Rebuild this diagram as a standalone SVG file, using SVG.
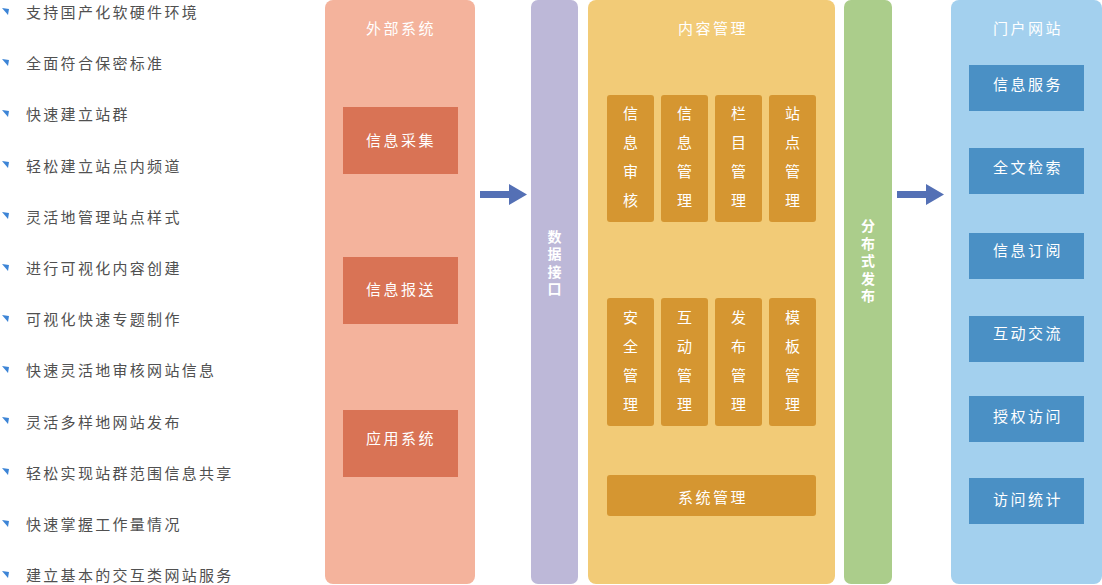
<svg xmlns="http://www.w3.org/2000/svg" width="1102" height="585" viewBox="0 0 1102 585">
<style>
.li{font-family:"Noto Sans CJK SC","Liberation Sans",sans-serif;font-size:15px;fill:#505050;letter-spacing:2.3px;dominant-baseline:central}
.t{font-family:"Noto Sans CJK SC","Liberation Sans",sans-serif;font-size:15px;fill:#ffffff;letter-spacing:2.5px;text-anchor:middle;dominant-baseline:central}
.v{font-family:"Noto Sans CJK SC","Liberation Sans",sans-serif;font-size:15px;fill:#ffffff;text-anchor:middle;dominant-baseline:central}
.vb{font-family:"Noto Sans CJK SC","Liberation Sans",sans-serif;font-size:14px;font-weight:bold;fill:#ffffff;text-anchor:middle;writing-mode:vertical-rl;letter-spacing:3.5px}
.bul{fill:#3c84d6}
.red{fill:#d97355}
.org{fill:#d59631}
.blu{fill:#4a90c5}
.arr{fill:#5470b5}
</style>
<rect width="1102" height="585" fill="#ffffff"/>
<g id="list">
<g id="li1"><polygon class="bul" points="2,8 9,9 8,15"/><text class="li" x="26" y="11.5">支持国产化软硬件环境</text></g>
<g id="li2"><polygon class="bul" points="2,59 9,60 8,66"/><text class="li" x="26" y="62.5">全面符合保密标准</text></g>
<g id="li3"><polygon class="bul" points="2,110 9,111 8,117"/><text class="li" x="26" y="113.5">快速建立站群</text></g>
<g id="li4"><polygon class="bul" points="2,161 9,162 8,168"/><text class="li" x="26" y="165">轻松建立站点内频道</text></g>
<g id="li5"><polygon class="bul" points="2,212 9,213 8,219"/><text class="li" x="26" y="216">灵活地管理站点样式</text></g>
<g id="li6"><polygon class="bul" points="2,264 9,265 8,271"/><text class="li" x="26" y="267.5">进行可视化内容创建</text></g>
<g id="li7"><polygon class="bul" points="2,315 9,316 8,322"/><text class="li" x="26" y="318.5">可视化快速专题制作</text></g>
<g id="li8"><polygon class="bul" points="2,366 9,367 8,373"/><text class="li" x="26" y="369.5">快速灵活地审核网站信息</text></g>
<g id="li9"><polygon class="bul" points="2,417 9,418 8,424"/><text class="li" x="26" y="421">灵活多样地网站发布</text></g>
<g id="li10"><polygon class="bul" points="2,468 9,469 8,475"/><text class="li" x="26" y="472">轻松实现站群范围信息共享</text></g>
<g id="li11"><polygon class="bul" points="2,520 9,521 8,527"/><text class="li" x="26" y="523.5">快速掌握工作量情况</text></g>
<g id="li12"><polygon class="bul" points="2,571 9,572 8,578"/><text class="li" x="26" y="574.5">建立基本的交互类网站服务</text></g>
</g>
<g id="external">
<rect x="325" y="0" width="150" height="584" rx="8" fill="#f4b39c"/>
<text class="t" x="401" y="27">外部系统</text>
<g id="n-collect"><rect class="red" x="343" y="107" width="115" height="67"/><text class="t" x="401" y="139">信息采集</text></g>
<g id="n-report"><rect class="red" x="343" y="257" width="115" height="67"/><text class="t" x="401" y="288">信息报送</text></g>
<g id="n-app"><rect class="red" x="343" y="410" width="115" height="67"/><text class="t" x="401" y="437">应用系统</text></g>
</g>
<g id="data-if">
<rect x="531" y="0" width="47" height="584" rx="7" fill="#bdb8d8"/>
<text class="vb" x="554.5" y="264.5">数据接口</text>
</g>
<g id="content">
<rect x="588" y="0" width="247" height="584" rx="8" fill="#f2cb77"/>
<text class="t" x="713" y="27">内容管理</text>
<g id="n-audit"><rect class="org" x="607" y="95" width="47" height="127" rx="3"/><text class="v" x="630.5" y="112">信</text><text class="v" x="630.5" y="141">息</text><text class="v" x="630.5" y="170">审</text><text class="v" x="630.5" y="199">核</text></g>
<g id="n-info"><rect class="org" x="661" y="95" width="47" height="127" rx="3"/><text class="v" x="684.5" y="112">信</text><text class="v" x="684.5" y="141">息</text><text class="v" x="684.5" y="170">管</text><text class="v" x="684.5" y="199">理</text></g>
<g id="n-column"><rect class="org" x="715" y="95" width="47" height="127" rx="3"/><text class="v" x="738.5" y="112">栏</text><text class="v" x="738.5" y="141">目</text><text class="v" x="738.5" y="170">管</text><text class="v" x="738.5" y="199">理</text></g>
<g id="n-site"><rect class="org" x="769" y="95" width="47" height="127" rx="3"/><text class="v" x="792.5" y="112">站</text><text class="v" x="792.5" y="141">点</text><text class="v" x="792.5" y="170">管</text><text class="v" x="792.5" y="199">理</text></g>
<g id="n-security"><rect class="org" x="607" y="298" width="47" height="128" rx="3"/><text class="v" x="630.5" y="316">安</text><text class="v" x="630.5" y="345">全</text><text class="v" x="630.5" y="374">管</text><text class="v" x="630.5" y="403">理</text></g>
<g id="n-interact"><rect class="org" x="661" y="298" width="47" height="128" rx="3"/><text class="v" x="684.5" y="316">互</text><text class="v" x="684.5" y="345">动</text><text class="v" x="684.5" y="374">管</text><text class="v" x="684.5" y="403">理</text></g>
<g id="n-publish"><rect class="org" x="715" y="298" width="47" height="128" rx="3"/><text class="v" x="738.5" y="316">发</text><text class="v" x="738.5" y="345">布</text><text class="v" x="738.5" y="374">管</text><text class="v" x="738.5" y="403">理</text></g>
<g id="n-template"><rect class="org" x="769" y="298" width="47" height="128" rx="3"/><text class="v" x="792.5" y="316">模</text><text class="v" x="792.5" y="345">板</text><text class="v" x="792.5" y="374">管</text><text class="v" x="792.5" y="403">理</text></g>
<g id="n-system"><rect class="org" x="607" y="475" width="209" height="41" rx="3"/><text class="t" x="713" y="496">系统管理</text></g>
</g>
<g id="distrib">
<rect x="844" y="0" width="48" height="584" rx="7" fill="#abcd8b"/>
<text class="vb" x="868" y="262.5">分布式发布</text>
</g>
<g id="portal">
<rect x="951" y="0" width="151" height="584" rx="8" fill="#a3d0ee"/>
<text class="t" x="1028" y="27">门户网站</text>
<g id="n-svc"><rect class="blu" x="969" y="65" width="115" height="46"/><text class="t" x="1028" y="83">信息服务</text></g>
<g id="n-search"><rect class="blu" x="969" y="148" width="115" height="46"/><text class="t" x="1028" y="166">全文检索</text></g>
<g id="n-sub"><rect class="blu" x="969" y="233" width="115" height="46"/><text class="t" x="1028" y="249">信息订阅</text></g>
<g id="n-ex"><rect class="blu" x="969" y="316" width="115" height="46"/><text class="t" x="1028" y="332">互动交流</text></g>
<g id="n-auth"><rect class="blu" x="969" y="396" width="115" height="46"/><text class="t" x="1028" y="415">授权访问</text></g>
<g id="n-stat"><rect class="blu" x="969" y="478" width="115" height="46"/><text class="t" x="1028" y="498">访问统计</text></g>
</g>
<g id="connectors">
<polygon class="arr" points="480,191 509,191 509,184 527,194.5 509,205 509,198 480,198"/>
<polygon class="arr" points="897,191 926,191 926,184 944,194.5 926,205 926,198 897,198"/>
</g>
</svg>
